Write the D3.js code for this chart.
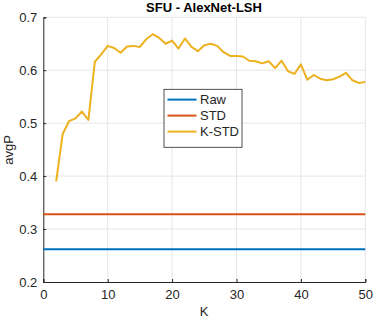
<!DOCTYPE html>
<html>
<head>
<meta charset="utf-8">
<script src="https://cdn.jsdelivr.net/npm/d3@7"></script>
<style>
  body { margin: 0; background: #fff; }
  text { font-family: "Liberation Sans", Arial, sans-serif; fill: #262626; }
</style>
</head>
<body>
<div id="chart"></div>
<script>
  var svgWidth = 374;
  var svgHeight = 318;

  var margin = { top: 17.3, right: 8.7, bottom: 36, left: 43.3 };
  var width = svgWidth - margin.left - margin.right;
  var height = svgHeight - margin.top - margin.bottom;

  // data
  var kValues = d3.range(2, 51);
  var kstd = [0.390, 0.479, 0.504, 0.509, 0.522, 0.506, 0.616, 0.630, 0.646,
    0.642, 0.633, 0.645, 0.646, 0.644, 0.659, 0.668, 0.661, 0.650, 0.656,
    0.641, 0.660, 0.644, 0.636, 0.647, 0.650, 0.646, 0.634, 0.627, 0.627,
    0.626, 0.618, 0.617, 0.613, 0.617, 0.604, 0.618, 0.598, 0.593, 0.611,
    0.582, 0.591, 0.584, 0.581, 0.583, 0.588, 0.595, 0.581, 0.576, 0.578];
  var rawValue = 0.262;
  var stdValue = 0.328;
  var xTicks = [0, 10, 20, 30, 40, 50];
  var yTicks = [0.2, 0.3, 0.4, 0.5, 0.6, 0.7];
  var seriesNames = ["Raw", "STD", "K-STD"];
  var colors = ["#0072BD", "#D95319", "#EDB120"];

  var svg = d3.select("#chart")
    .append("svg")
    .attr("width", svgWidth)
    .attr("height", svgHeight);

  var chartGroup = svg.append("g")
    .attr("transform", `translate(${margin.left}, ${margin.top})`);

  var xScale = d3.scaleLinear().domain([0, 50]).range([0, width]);
  var yScale = d3.scaleLinear().domain([0.2, 0.7]).range([height, 0]);

  // grid
  chartGroup.append("g").selectAll("line")
    .data(xTicks.slice(1))
    .enter().append("line")
    .attr("x1", d => xScale(d)).attr("x2", d => xScale(d))
    .attr("y1", 0).attr("y2", height)
    .attr("stroke", "#e6e6e6");
  chartGroup.append("g").selectAll("line")
    .data(yTicks.slice(1))
    .enter().append("line")
    .attr("x1", 0).attr("x2", width)
    .attr("y1", d => yScale(d)).attr("y2", d => yScale(d))
    .attr("stroke", "#e6e6e6");

  // axes (MATLAB style, ticks inward)
  var bottomAxis = d3.axisBottom(xScale).tickValues(xTicks).tickSize(-3).tickPadding(8).tickFormat(d3.format("d"));
  var leftAxis = d3.axisLeft(yScale).tickValues(yTicks).tickSize(-3).tickPadding(6).tickFormat(d3.format(".1f"));

  var xg = chartGroup.append("g")
    .attr("transform", `translate(0, ${height})`)
    .call(bottomAxis);
  var yg = chartGroup.append("g").call(leftAxis);

  [xg, yg].forEach(function(g) {
    g.select(".domain").attr("stroke", "#262626");
    g.selectAll(".tick line").attr("stroke", "#262626");
    g.selectAll(".tick text").style("font-size", "13px").attr("fill", "#262626");
  });

  // lines
  var kLine = d3.line()
    .x((d, i) => xScale(kValues[i]))
    .y(d => yScale(d));

  chartGroup.append("line")
    .attr("x1", xScale(0)).attr("x2", xScale(50))
    .attr("y1", yScale(rawValue)).attr("y2", yScale(rawValue))
    .attr("stroke", colors[0]).attr("stroke-width", 2);

  chartGroup.append("line")
    .attr("x1", xScale(0)).attr("x2", xScale(50))
    .attr("y1", yScale(stdValue)).attr("y2", yScale(stdValue))
    .attr("stroke", colors[1]).attr("stroke-width", 2);

  chartGroup.append("path")
    .datum(kstd)
    .attr("d", kLine)
    .attr("fill", "none")
    .attr("stroke", colors[2])
    .attr("stroke-width", 2)
    .attr("stroke-linejoin", "round");

  // title and axis labels
  svg.append("text")
    .attr("x", 204).attr("y", 12)
    .attr("text-anchor", "middle")
    .style("font-size", "13px")
    .style("font-weight", "bold")
    .attr("fill", "#000")
    .style("fill", "#000")
    .text("SFU - AlexNet-LSH");

  svg.append("text")
    .attr("transform", "rotate(-90)")
    .attr("x", -150).attr("y", 13)
    .attr("text-anchor", "middle")
    .style("font-size", "13px")
    .text("avgP");

  svg.append("text")
    .attr("x", 204).attr("y", 316)
    .attr("text-anchor", "middle")
    .style("font-size", "13px")
    .text("K");

  // legend
  var legend = svg.append("g").attr("transform", "translate(164, 89.3)");
  legend.append("rect")
    .attr("width", 78).attr("height", 58)
    .attr("fill", "#fff")
    .attr("stroke", "#262626")
    .attr("stroke-width", 0.8);

  var items = legend.selectAll("g.item")
    .data(seriesNames)
    .enter().append("g")
    .attr("transform", (d, i) => `translate(0, ${10.3 + i * 16})`);
  items.append("line")
    .attr("x1", 3.5).attr("x2", 32.5)
    .attr("stroke", (d, i) => colors[i])
    .attr("stroke-width", 2);
  items.append("text")
    .attr("x", 36).attr("dy", "0.36em")
    .style("font-size", "13px")
    .text(d => d);
</script>
</body>
</html>
